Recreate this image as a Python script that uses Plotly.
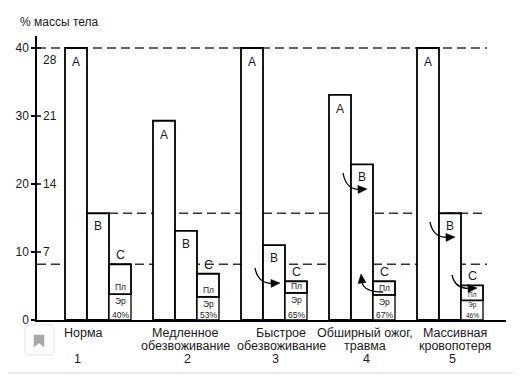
import math
import plotly.graph_objects as go

# ---------------- data ----------------
label_line1 = ["Норма", "Медленное", "Быстрое", "Обширный ожог,", "Массивная"]
label_line2 = ["", "обезвоживание", "обезвоживание", "травма", "кровопотеря"]
group_numbers = ["1", "2", "3", "4", "5"]
bar_letters = ["А", "В", "С"]
a_values = [40, 29.3, 40, 33.1, 40]
b_values = [15.7, 13.1, 11.0, 22.9, 15.7]
c_values = [8.2, 6.8, 5.7, 5.7, 5.1]
er_values = [3.8, 3.4, 4.0, 3.7, 2.9]
hematocrit = ["40%", "53%", "65%", "67%", "46%"]
y_tick_values = [0, 10, 20, 30, 40]
y_tick_liters = ["", "7", "14", "21", "28"]
y_title = "% массы тела"

# ---------------- layout helpers ----------------
PAGE_W, PAGE_H = 521, 377
OFF = 8                      # default body margin of the html page
W, H = PAGE_W - OFF, PAGE_H - OFF
PL, PR, PT, PB = 37, 506, 36, 320   # plot area in page pixels
UNIT = 22.0
PX_PER_VAL = 6.8
n = len(a_values)
xa = [4 * i for i in range(n)]
xb = [4 * i + 1 for i in range(n)]
xc = [4 * i + 2 for i in range(n)]
pl_values = [c - e for c, e in zip(c_values, er_values)]
xr0 = xa[0] - (76 - PL) / UNIT
xr1 = xr0 + (PR - PL) / UNIT
yr1 = (PB - PT) / PX_PER_VAL

def px(x):
    return (x - PL) / (PR - PL)

def py(y):
    return (PB - y) / (PB - PT)

FONT = "Liberation Sans, Arial, sans-serif"
INK = "#1a1a1a"

fig = go.Figure()
thick = dict(color="black", width=1.8)
thin = dict(color="black", width=1.3)
fig.add_bar(x=xa, y=a_values, width=1, marker=dict(color="white", line=thick), hoverinfo="skip")
fig.add_bar(x=xb, y=b_values, width=1, marker=dict(color="white", line=thick), hoverinfo="skip")
fig.add_bar(x=xc, y=er_values, width=1, marker=dict(color="white", line=thin), hoverinfo="skip")
fig.add_bar(x=xc, y=pl_values, base=er_values, width=1,
            marker=dict(color="white", line=thick), hoverinfo="skip")

shapes = []
dash = dict(color="#333333", width=1.6, dash="9px,5px")
xend = xc[-1] + 0.68
shapes.append(dict(type="line", xref="x", yref="y", x0=xr0, x1=xend,
                   y0=a_values[0], y1=a_values[0], line=dash, layer="below"))
shapes.append(dict(type="line", xref="x", yref="y", x0=xb[0] + 0.5, x1=xend,
                   y0=b_values[0], y1=b_values[0], line=dash, layer="below"))
shapes.append(dict(type="line", xref="x", yref="y", x0=xr0, x1=xend,
                   y0=c_values[0], y1=c_values[0], line=dash, layer="below"))

# inner half of the crossing ticks
for v in y_tick_values[1:]:
    shapes.append(dict(type="line", xref="paper", yref="y", x0=0, x1=px(41),
                       y0=v, y1=v, line=dict(color="black", width=1.5)))

# curved arrows (pixel decoration)
arrows = [
    ((255, 268), (258, 284), (280, 283)),
    ((343, 173), (346, 190), (367, 189)),
    ((383, 292), (363, 292), (361, 274)),
    ((430, 222), (433, 238), (455, 237)),
    ((452, 275), (455, 289), (477, 288)),
]
for tail, ctrl, tip in arrows:
    dx, dy = tip[0] - ctrl[0], tip[1] - ctrl[1]
    L = math.hypot(dx, dy)
    ux, uy = dx / L, dy / L
    bx, by = tip[0] - 9 * ux, tip[1] - 9 * uy
    nx, ny = -uy, ux
    path = "M {},{} Q {},{} {},{}".format(px(tail[0]), py(tail[1]), px(ctrl[0]), py(ctrl[1]),
                                          px(bx + 2 * ux), py(by + 2 * uy))
    shapes.append(dict(type="path", xref="paper", yref="paper", path=path,
                       line=dict(color="black", width=1.3)))
    tri = "M {},{} L {},{} L {},{} Z".format(px(tip[0]), py(tip[1]),
                                             px(bx + 4 * nx), py(by + 4 * ny),
                                             px(bx - 4 * nx), py(by - 4 * ny))
    shapes.append(dict(type="path", xref="paper", yref="paper", path=tri,
                       fillcolor="black", line=dict(color="black", width=0.5)))

# outer frame and bookmark badge
shapes.append(dict(type="rect", xref="paper", yref="paper", x0=px(3), x1=px(516),
                   y0=py(373), y1=py(5), line=dict(color="#d2d2d2", width=1)))
r = 5
badge = ("M {a},{b} L {c},{b} Q {d},{b} {d},{e} L {d},{f} Q {d},{g} {c},{g} "
         "L {a},{g} Q {h},{g} {h},{f} L {h},{e} Q {h},{b} {a},{b} Z").format(
    a=px(25 + r), b=py(325), c=px(54 - r), d=px(54), e=py(325 + r),
    f=py(355 - r), g=py(355), h=px(25))
shapes.append(dict(type="path", xref="paper", yref="paper", path=badge,
                   line=dict(color="#e4e4e4", width=1)))
mark = "M {},{} L {},{} L {},{} L {},{} L {},{} Z".format(
    px(34), py(335), px(44), py(335), px(44), py(347), px(39), py(343), px(34), py(347))
shapes.append(dict(type="path", xref="paper", yref="paper", path=mark,
                   fillcolor="#a8a8a8", line=dict(color="#a8a8a8", width=0.5)))

ann = []
def text(x, y, t, size=12, xref="x", yref="y", xanchor="center", yanchor="middle",
         xshift=0, yshift=0, pad=1):
    ann.append(dict(x=x, y=y, text=t, xref=xref, yref=yref, showarrow=False,
                    xanchor=xanchor, yanchor=yanchor, xshift=xshift, yshift=yshift,
                    borderpad=pad, font=dict(family=FONT, size=size, color=INK)))

for i in range(n):
    text(xa[i], a_values[i], bar_letters[0], yshift=-14)
    text(xb[i], b_values[i], bar_letters[1], yshift=-13)
    text(xc[i], c_values[i], bar_letters[2], size=12.5, yshift=9)
    roomy = c_values[i] * PX_PER_VAL >= 38
    fs = 8.5 if roomy else 6.5
    text(xc[i], er_values[i], "Пл", size=fs, yshift=(7 if roomy else 5.5), pad=0)
    text(xc[i], er_values[i], "Эр", size=fs, yshift=(-7 if roomy else -5), pad=0)
    text(xc[i], 0, hematocrit[i], size=fs, yanchor="bottom", yshift=(-1 if roomy else 0), pad=0)

line_shift = [-15, -1, 7, 3, 5]
num_shift = [-21, 1, 1, 4, 2]
for i in range(n):
    text(xb[i], 0, label_line1[i], size=12.5, yref="paper", xshift=line_shift[i], yshift=-13)
    if label_line2[i]:
        text(xb[i], 0, label_line2[i], size=12.5, yref="paper", xshift=line_shift[i], yshift=-25.5)
    text(xb[i], 0, group_numbers[i], size=12.5, yref="paper", xshift=num_shift[i], yshift=-39)

for v, t in zip(y_tick_values, y_tick_liters):
    if t:
        text(0, v, t, xref="paper", xanchor="left", xshift=4, yshift=(-12 if v == 40 else 0))

text(px(18), py(22), y_title, xref="paper", yref="paper", xanchor="left", size=12)

fig.update_layout(
    width=W, height=H,
    margin=dict(l=PL - OFF, r=W - (PR - OFF), t=PT - OFF, b=H - (PB - OFF), pad=0,
                autoexpand=False),
    paper_bgcolor="white", plot_bgcolor="white",
    barmode="overlay", showlegend=False,
    shapes=shapes, annotations=ann,
    xaxis=dict(range=[xr0, xr1], showgrid=False, zeroline=False, showticklabels=False,
               ticks="", showline=True, linecolor="black", linewidth=2, fixedrange=True,
               automargin=False),
    yaxis=dict(range=[0, yr1], showgrid=False, zeroline=False, tickvals=y_tick_values,
               ticktext=[str(v) for v in y_tick_values], ticks="outside", ticklen=4,
               tickwidth=1.5, tickcolor="black", showline=True, linecolor="black",
               linewidth=1.5, tickfont=dict(family=FONT, size=12, color=INK),
               fixedrange=True, automargin=False),
)

fig.write_html("out.html")
